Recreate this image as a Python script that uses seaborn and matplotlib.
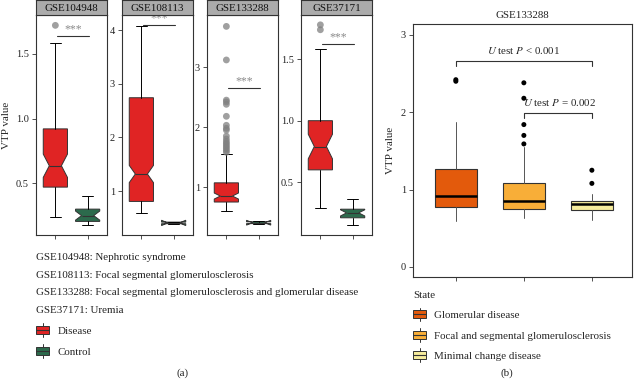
import matplotlib
matplotlib.use("Agg")
import matplotlib.pyplot as plt
from matplotlib.patches import Patch, Rectangle
from matplotlib.lines import Line2D
import pandas as pd
import seaborn as sns

# ---- panel (a): one entry per dataset ----
datasets = ["GSE104948", "GSE108113", "GSE133288", "GSE37171"]
descriptions = ["Nephrotic syndrome",
                "Focal segmental glomerulosclerosis",
                "Focal segmental glomerulosclerosis and glomerular disease",
                "Uremia"]
groups = ["Disease", "Control"]

# five-number summaries: low whisker, Q1, median, Q3, high whisker
disease_stats = [[0.236, 0.47, 0.635, 0.92, 1.585],
                 [0.59, 0.81, 1.32, 2.74, 4.07],
                 [0.595, 0.75, 0.85, 1.07, 1.55],
                 [0.29, 0.60, 0.79, 1.00, 1.58]]
disease_notch = [0.09, 0.16, 0.05, 0.10]
control_stats = [[0.18, 0.205, 0.25, 0.30, 0.40],
                 [0.385, 0.395, 0.41, 0.425, 0.435],
                 [0.38, 0.39, 0.405, 0.42, 0.43],
                 [0.15, 0.21, 0.25, 0.28, 0.36]]
control_notch = [0.035, 0.05, 0.04, 0.025]
disease_outliers = [[1.72],
                    [],
                    [1.58, 1.61, 1.64, 1.67, 1.70, 1.73, 1.76, 1.80, 1.85, 1.95,
                     1.98, 2.03, 2.18, 2.38, 2.42, 2.45, 3.12, 3.68],
                    [1.74, 1.78]]
signif_y = [1.64, 4.09, 2.65, 1.62]
y_limits = [(0.1, 1.8), (0.185, 4.28), (0.2, 3.87), (0.07, 1.86)]
y_ticks = [[0.5, 1.0, 1.5], [1, 2, 3, 4], [1, 2, 3], [0.5, 1.0, 1.5]]
y_ticklabels = [["0.5", "1.0", "1.5"], ["1", "2", "3", "4"], ["1", "2", "3"], ["0.5", "1.0", "1.5"]]
group_colors = ["#E02424", "#2C6A4C"]

# ---- panel (b): GSE133288 by state ----
states = ["Glomerular disease", "Focal and segmental glomerulosclerosis", "Minimal change disease"]
state_stats = [[0.60, 0.77, 0.92, 1.26, 1.87],
               [0.63, 0.75, 0.85, 1.08, 1.55],
               [0.61, 0.74, 0.81, 0.85, 0.94]]
state_outliers = [[2.40, 2.42], [1.59, 1.70, 1.84, 2.18, 2.38], [1.08, 1.25]]
state_colors = ["#E35A0C", "#F8AE38", "#F6EC9C"]
test_labels = ["$U$ test $P$ < 0.001", "$U$ test $P$ = 0.002"]

sns.set_theme(style="white")
plt.rcParams["font.family"] = ["Liberation Serif", "DejaVu Serif"]
plt.rcParams["mathtext.fontset"] = "stix"

W, H = 634, 380
FS = 7.9
fig = plt.figure(figsize=(W / 100, H / 100), dpi=100)
dark = "#333333"


def box_stats(s, notch=None):
    d = dict(whislo=s[0], q1=s[1], med=s[2], q3=s[3], whishi=s[4], fliers=[])
    if notch is not None:
        d["cilo"] = s[2] - notch
        d["cihi"] = s[2] + notch
    return d


def style_axes(ax):
    for sp in ax.spines.values():
        sp.set_color(dark)
        sp.set_linewidth(0.8)
    ax.tick_params(axis="both", direction="out", length=3, width=0.6, color=dark,
                   labelsize=7.5, pad=2, bottom=True, left=True, labelcolor="#222222")


class BoxKey:
    # ggplot-like boxplot legend key: box, median line, whisker stubs
    def legend_artist(self, legend, orig_handle, fontsize, handlebox):
        x0, y0 = -handlebox.xdescent, -handlebox.ydescent
        w, h = handlebox.width, handlebox.height
        tr = handlebox.get_transform()
        stub = Line2D([x0 + w / 2, x0 + w / 2], [y0 - 2, y0 + h + 2], color=dark, lw=0.7, transform=tr)
        rect = Rectangle((x0, y0), w, h, facecolor=orig_handle.get_facecolor(),
                         edgecolor=dark, lw=0.7, transform=tr)
        med = Line2D([x0, x0 + w], [y0 + h / 2, y0 + h / 2], color=dark, lw=0.8, transform=tr)
        for a in (stub, rect, med):
            handlebox.add_artist(a)
        return rect


facet_x = [36, 122, 207, 301]
facet_w = 71
for i, ds in enumerate(datasets):
    ax = fig.add_axes([facet_x[i] / W, (H - 235) / H, facet_w / W, 220 / H])
    bp = ax.bxp([box_stats(disease_stats[i], disease_notch[i]),
                 box_stats(control_stats[i], control_notch[i])],
                positions=[0, 1], widths=0.75, shownotches=True, showfliers=False,
                patch_artist=True, capwidths=0.35,
                boxprops=dict(edgecolor=dark, linewidth=0.7),
                medianprops=dict(color=dark, linewidth=0.8),
                whiskerprops=dict(color="black", linewidth=0.7),
                capprops=dict(color="black", linewidth=0.7))
    for patch, c in zip(bp["boxes"], group_colors):
        patch.set_facecolor(c)
    if disease_outliers[i]:
        odf = pd.DataFrame({"pos": [0] * len(disease_outliers[i]), "value": disease_outliers[i]})
        sns.scatterplot(data=odf, x="pos", y="value", ax=ax, color="#808080", alpha=0.75,
                        s=24, edgecolor="none", legend=False, zorder=3)
    # significance line
    ax.plot([0.05, 1.05], [signif_y[i], signif_y[i]], color=dark, lw=0.8)
    ax.annotate("***", (0.55, signif_y[i]), xytext=(0, 0.5), textcoords="offset points",
                ha="center", va="bottom", fontsize=8.5, color="#8a8a8a")
    ax.set_xlim(-0.6, 1.6)
    ax.set_ylim(*y_limits[i])
    ax.set_xticks([0, 1])
    ax.set_xticklabels([])
    ax.set_yticks(y_ticks[i])
    ax.set_yticklabels(y_ticklabels[i])
    ax.set_xlabel("")
    ax.set_ylabel("")
    style_axes(ax)
    # facet strip
    sax = fig.add_axes([facet_x[i] / W, (H - 15) / H, facet_w / W, 15 / H])
    sax.set_facecolor("#ABABAB")
    sax.set_xticks([])
    sax.set_yticks([])
    for sp in sax.spines.values():
        sp.set_color(dark)
        sp.set_linewidth(0.8)
    sax.text(0.5, 0.45, ds, ha="center", va="center", fontsize=FS, color="#111111",
             transform=sax.transAxes)

fig.text(6.5 / W, 1 - 125 / H, "VTP value", rotation=90, ha="center", va="center", fontsize=FS)

# descriptions under panel (a)
for j, (ds, desc) in enumerate(zip(datasets, descriptions)):
    fig.text(36 / W, 1 - (258 + j * 17.4) / H, f"{ds}: {desc}", ha="left", va="center",
             fontsize=FS, color="#222222")

key_a = [Patch(facecolor=c) for c in group_colors]
fig.legend(key_a, groups, handler_map={Patch: BoxKey()},
           loc="upper left", bbox_to_anchor=(36 / W, 1 - 326 / H), frameon=False,
           fontsize=FS, handlelength=1.2, handleheight=0.75, handletextpad=0.75,
           labelspacing=1.0, borderpad=0, borderaxespad=0)

fig.text(183 / W, 1 - 373 / H, "(a)", ha="center", va="center", fontsize=FS)

# ---- panel (b) ----
axb = fig.add_axes([413 / W, (H - 277) / H, 219 / W, 253 / H])
bpb = axb.bxp([box_stats(s) for s in state_stats], positions=[0, 1, 2], widths=0.62,
              showfliers=False, patch_artist=True, showcaps=False,
              boxprops=dict(edgecolor=dark, linewidth=0.8),
              medianprops=dict(color="black", linewidth=1.8),
              whiskerprops=dict(color="#555555", linewidth=0.7))
for patch, c in zip(bpb["boxes"], state_colors):
    patch.set_facecolor(c)
out_rows = [(k, v) for k, vals in enumerate(state_outliers) for v in vals]
odf_b = pd.DataFrame(out_rows, columns=["pos", "value"])
sns.scatterplot(data=odf_b, x="pos", y="value", ax=axb, color="black", s=13,
                edgecolor="none", legend=False, zorder=3)

axb.plot([0, 0, 2, 2], [2.60, 2.66, 2.66, 2.60], color=dark, lw=0.8)
axb.text(1.0, 2.72, test_labels[0], ha="center", va="bottom", fontsize=FS)
axb.plot([1, 1, 2, 2], [1.93, 1.99, 1.99, 1.93], color=dark, lw=0.8)
axb.text(1.52, 2.05, test_labels[1], ha="center", va="bottom", fontsize=FS)

axb.set_xlim(-0.63, 2.59)
axb.set_ylim(-0.13, 3.14)
axb.set_xticks([0, 1, 2])
axb.set_xticklabels([])
axb.set_yticks([0, 1, 2, 3])
axb.set_xlabel("")
axb.set_ylabel("VTP value", fontsize=FS, labelpad=4)
axb.set_title("GSE133288", fontsize=FS, pad=4, color="#222222")
style_axes(axb)

key_b = [Patch(facecolor=c) for c in state_colors]
fig.legend(key_b, states, handler_map={Patch: BoxKey()},
           loc="upper left", bbox_to_anchor=(413 / W, 1 - 291 / H), frameon=False,
           fontsize=FS, title="State", title_fontsize=FS, alignment="left",
           handlelength=1.2, handleheight=0.75, handletextpad=0.75,
           labelspacing=0.95, borderpad=0, borderaxespad=0)

fig.text(507 / W, 1 - 373 / H, "(b)", ha="center", va="center", fontsize=FS)

fig.savefig("out.png", dpi=100)
